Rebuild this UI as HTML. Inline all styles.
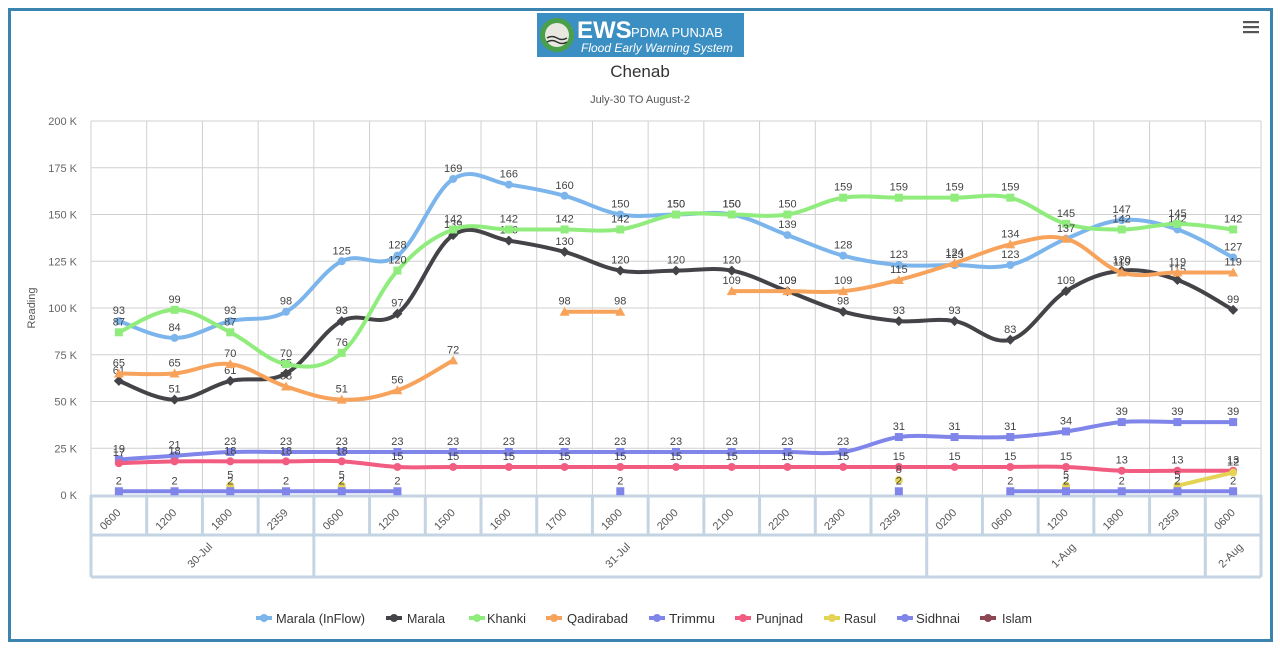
<!DOCTYPE html>
<html><head><meta charset="utf-8"><style>
html,body{margin:0;padding:0;background:#fff;width:1280px;height:649px;overflow:hidden}
svg{display:block;font-family:"Liberation Sans",sans-serif}
</style></head><body>
<svg id="s" width="1280" height="649" xmlns="http://www.w3.org/2000/svg">
<rect x="0" y="0" width="1280" height="649" fill="#fff"/>
<rect x="9.5" y="9.5" width="1262" height="631" fill="none" stroke="#3b84b0" stroke-width="3"/>
<rect x="537" y="13" width="207" height="44" fill="#3c8fc2"/>
<circle cx="557" cy="35" r="17" fill="#4aa04a"/><circle cx="557" cy="35" r="12" fill="#e8e8e0"/>
<path d="M547 38 q5 -3 10 0 t10 0 M547 42 q5 -3 10 0 t10 0" stroke="#333" stroke-width="1.5" fill="none"/>
<text x="577" y="38" font-size="24" font-weight="bold" fill="#fff">EWS</text>
<text x="631" y="37" font-size="13" fill="#fff">PDMA PUNJAB</text>
<text x="581" y="52" font-size="12" font-style="italic" fill="#fff">Flood Early Warning System</text>
<text x="640" y="77" font-size="17" text-anchor="middle" fill="#333">Chenab</text>
<text x="640" y="103" font-size="11" text-anchor="middle" fill="#555">July-30 TO August-2</text>
<g fill="#555"><rect x="1243" y="21" width="16" height="2.2"/><rect x="1243" y="26" width="16" height="2.2"/><rect x="1243" y="31" width="16" height="2.2"/></g>
<text transform="translate(35,308) rotate(-90)" font-size="11" text-anchor="middle" fill="#555">Reading</text>
<g id="g"></g>
</svg>
<script>
var g=document.getElementById('g'),h='';
var X0=91,X1=1261,W=(X1-X0)/21,Y0=495,K=1.87;
function x(i){return X0+W/2+W*i}function y(v){return Y0-v*K}
for(var v=0;v<=200;v+=25){h+='<line x1="'+X0+'" x2="'+X1+'" y1="'+y(v)+'" y2="'+y(v)+'" stroke="#d0d0d0"/>';
h+='<text x="77" y="'+(y(v)+4)+'" font-size="11" text-anchor="end" fill="#666">'+(v==0?'0 K':v+' K')+'</text>';}
for(var i=0;i<=21;i++){var xx=X0+W*i;h+='<line x1="'+xx+'" x2="'+xx+'" y1="121" y2="495" stroke="#d0d0d0"/>';}
h+='<line x1="'+X0+'" x2="'+X1+'" y1="496" y2="496" stroke="#c5d4e3" stroke-width="3"/>';
h+='<line x1="'+X0+'" x2="'+X1+'" y1="535" y2="535" stroke="#c5d4e3" stroke-width="3"/>';
h+='<line x1="'+X0+'" x2="'+X1+'" y1="577" y2="577" stroke="#c5d4e3" stroke-width="3"/>';
for(var i=0;i<=21;i++){var xx=X0+W*i;h+='<line x1="'+xx+'" x2="'+xx+'" y1="495" y2="535" stroke="#c5d4e3" stroke-width="3"/>';}
[0,4,15,20,21].forEach(function(i){var xx=X0+W*i;h+='<line x1="'+xx+'" x2="'+xx+'" y1="535" y2="577" stroke="#c5d4e3" stroke-width="3"/>';});
var cats=['0600','1200','1800','2359','0600','1200','1500','1600','1700','1800','2000','2100','2200','2300','2359','0200','0600','1200','1800','2359','0600'];
cats.forEach(function(c,i){var cx=x(i)-6,cy=522;h+='<text transform="translate('+cx+','+cy+') rotate(-45)" font-size="11" text-anchor="middle" fill="#555">'+c+'</text>';});
[['30-Jul',0,4],['31-Jul',4,15],['1-Aug',15,20],['2-Aug',20,21]].forEach(function(d){var cx=X0+W*(d[1]+d[2])/2,cy=558;h+='<text transform="translate('+cx+','+cy+') rotate(-45)" font-size="11" text-anchor="middle" fill="#555">'+d[0]+'</text>';});
function smooth(pts){var d='M'+pts[0][0]+' '+pts[0][1];for(var k=0;k<pts.length-1;k++){var p0=pts[k-1]||pts[k],p1=pts[k],p2=pts[k+1],p3=pts[k+2]||p2;var t=0.18;
d+=' C'+(p1[0]+(p2[0]-p0[0])*t)+' '+(p1[1]+(p2[1]-p0[1])*t)+' '+(p2[0]-(p3[0]-p1[0])*t)+' '+(p2[1]-(p3[1]-p1[1])*t)+' '+p2[0]+' '+p2[1];}return d;}
var N=null;
var S=[
['#7cb5ec',[93,84,93,98,125,128,169,166,160,150,150,150,139,128,123,123,123,137,147,142,127],[1,1,1,1,1,1,1,1,1,1,1,1,1,1,1,1,1,0,1,1,1],'c'],
['#434348',[61,51,61,65,93,97,139,136,130,120,120,120,109,98,93,93,83,109,120,115,99],null,'d'],
['#90ed7d',[87,99,87,70,76,120,142,142,142,142,150,150,150,159,159,159,159,145,142,145,142],null,'s'],
['#f7a35c',[65,65,70,58,51,56,72,N,98,98,N,109,109,109,115,124,134,137,119,119,119],null,'t'],
['#8085e9',[19,21,23,23,23,23,23,23,23,23,23,23,23,23,31,31,31,34,39,39,39],null,'s'],
['#f15c80',[17,18,18,18,18,15,15,15,15,15,15,15,15,15,15,15,15,15,13,13,13],null,'c'],
['#e4d354',[N,N,5,N,5,N,N,N,N,N,N,N,N,N,8,N,N,5,N,5,12],null,'c'],
['#8085e9',[2,2,2,2,2,2,N,N,N,2,N,N,N,N,2,N,2,2,2,2,2],null,'s']
];
S.forEach(function(s){var segs=[],cur=[];s[1].forEach(function(v,i){if(v===N){if(cur.length)segs.push(cur);cur=[];}else cur.push([x(i),y(v)]);});if(cur.length)segs.push(cur);
segs.forEach(function(sg){if(sg.length>1)h+='<path d="'+smooth(sg)+'" fill="none" stroke="'+s[0]+'" stroke-width="4" stroke-linejoin="round" stroke-linecap="round"/>';});
s[1].forEach(function(v,i){if(v===N)return;var px=x(i),py=y(v);
if(s[3]=='s')h+='<rect x="'+(px-4)+'" y="'+(py-4)+'" width="8" height="8" fill="'+s[0]+'"/>';
else if(s[3]=='t')h+='<path d="M'+px+' '+(py-5)+'L'+(px+5)+' '+(py+4)+'L'+(px-5)+' '+(py+4)+'Z" fill="'+s[0]+'"/>';
else if(s[3]=='d')h+='<path d="M'+px+' '+(py-5)+'L'+(px+5)+' '+py+'L'+px+' '+(py+5)+'L'+(px-5)+' '+py+'Z" fill="'+s[0]+'"/>';
else h+='<circle cx="'+px+'" cy="'+py+'" r="4" fill="'+s[0]+'"/>';
if(!s[2]||s[2][i])h+='<text x="'+px+'" y="'+(py-7)+'" font-size="11" text-anchor="middle" fill="#444">'+v+'</text>';});});
var L=[['Marala (InFlow)','#7cb5ec',264,276,89],['Marala','#434348',394,407,38],['Khanki','#90ed7d',477,487,39],['Qadirabad','#f7a35c',554,567,61],['Trimmu','#8085e9',657,669,46],['Punjnad','#f15c80',743,756,47],['Rasul','#e4d354',832,844,32],['Sidhnai','#8085e9',905,916,44],['Islam','#8d4653',988,1002,30]];
L.forEach(function(l){var px=l[2];h+='<rect x="'+(px-8)+'" y="616" width="16" height="4" fill="'+l[1]+'"/><circle cx="'+px+'" cy="618" r="4" fill="'+l[1]+'"/>';
h+='<text x="'+l[3]+'" y="623" font-size="13" fill="#333" textLength="'+l[4]+'" lengthAdjust="spacingAndGlyphs">'+l[0]+'</text>';});
g.innerHTML=h;
</script>
</body></html>
